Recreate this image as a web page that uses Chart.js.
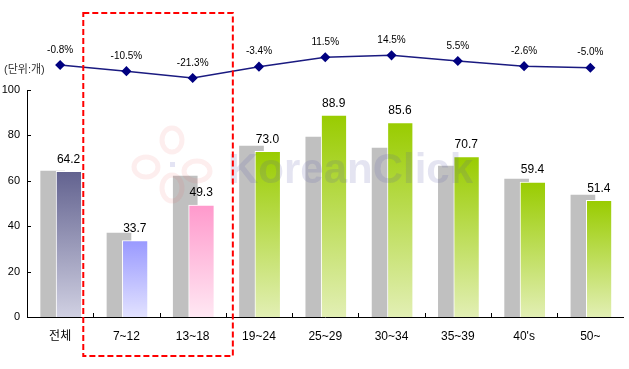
<!DOCTYPE html>
<html>
<head>
<meta charset="utf-8">
<script src="https://cdn.jsdelivr.net/npm/chart.js@4.4.1/dist/chart.umd.min.js"></script>
<style>
  html, body { margin: 0; padding: 0; background: #fff; }
  #wrap { width: 629px; height: 369px; position: relative; }
</style>
</head>
<body>
<div id="wrap"><canvas id="chart" width="629" height="369"></canvas></div>
<script>
// 데이터
const categories = ['전체', '7~12', '13~18', '19~24', '25~29', '30~34', '35~39', '40\'s', '50~'];
const prevValues = [64.3, 37.0, 62.1, 75.3, 79.3, 74.4, 66.5, 60.8, 53.7];
const curValues = [64.2, 33.7, 49.3, 73.0, 88.9, 85.6, 70.7, 59.4, 51.4];
const changeRates = [-0.8, -10.5, -21.3, -3.4, 11.5, 14.5, 5.5, -2.6, -5.0];
const yTicks = [0, 20, 40, 60, 80, 100];

const FONT = '"Liberation Sans", "Noto Sans CJK KR", Arial, sans-serif';
const Y_MAX = 100;

// 막대 색 (위, 아래)
function barColors(i) {
  if (i === 0) return ['#62628f', '#d0d0e2'];
  if (i === 1) return ['#9999ff', '#e2e2ff'];
  if (i === 2) return ['#ff99cc', '#ffe8f3'];
  return ['#99cc00', '#e2efb4'];
}

function curGradient(ctx) {
  const chart = ctx.chart;
  const area = chart.chartArea;
  const i = ctx.dataIndex;
  const c = barColors(i);
  if (!area || ctx.type !== 'data') return c[0];
  const y = chart.scales.y;
  const top = y.getPixelForValue(curValues[i]);
  const bottom = y.getPixelForValue(0);
  const g = chart.ctx.createLinearGradient(0, top, 0, bottom);
  g.addColorStop(0, c[0]);
  g.addColorStop(1, c[1]);
  return g;
}

const SHIFT_GRAY = -7.5 / 66.67;
const SHIFT_CUR = 8.5 / 66.67;

// 워터마크
function drawWatermark(ctx) {
  ctx.save();
  ctx.strokeStyle = 'rgba(240,90,90,0.1)';
  ctx.lineWidth = 5;
  [[172, 140, 10, 12], [146, 167, 12, 10], [197, 171, 13, 10], [172, 188, 10, 13]].forEach(l => {
    ctx.beginPath();
    ctx.ellipse(l[0], l[1], l[2], l[3], 0, 0, Math.PI * 2);
    ctx.stroke();
  });
  ctx.fillStyle = 'rgba(120,120,200,0.2)';
  ctx.fillRect(170, 162, 5, 5);

  ctx.font = 'bold 42px ' + FONT;
  ctx.fillStyle = 'rgba(90,90,170,0.16)';
  ctx.textBaseline = 'alphabetic';
  ctx.textAlign = 'left';
  ctx.fillText('KoreanClick', 228, 183);
  ctx.restore();
}

//축선, 눈금, 라벨, 점선 박스
const decoPlugin = {
  id: 'deco',
  afterDatasetsDraw(chart) {
    const ctx = chart.ctx;
    const x = chart.scales.x;
    const y = chart.scales.y;
    const area = chart.chartArea;
    const step = area.width / categories.length;

    drawWatermark(ctx);

    ctx.save();
    ctx.strokeStyle = '#000';
    ctx.lineWidth = 1;
    // y축선
    const ax = Math.round(area.left) + 0.5;
    ctx.beginPath();
    ctx.moveTo(ax, y.getPixelForValue(Y_MAX));
    ctx.lineTo(ax, y.getPixelForValue(0));
    ctx.stroke();
    // y축 눈금 (안쪽)
    yTicks.forEach(v => {
      const py = Math.round(y.getPixelForValue(v)) + 0.5;
      ctx.beginPath();
      ctx.moveTo(area.left, py);
      ctx.lineTo(area.left + 4, py);
      ctx.stroke();
    });
    // x축 눈금 (안쪽)
    for (let i = 1; i < categories.length; i++) {
      const px = Math.round(x.getPixelForValue(i) - step / 2) + 0.5;
      ctx.beginPath();
      ctx.moveTo(px, area.bottom);
      ctx.lineTo(px, area.bottom - 4);
      ctx.stroke();
    }

    // 막대 값
    ctx.fillStyle = '#000';
    ctx.font = '12px ' + FONT;
    ctx.textAlign = 'center';
    ctx.textBaseline = 'middle';
    const curMeta = chart.getDatasetMeta(1);
    curMeta.data.forEach((bar, i) => {
      ctx.fillText(curValues[i].toFixed(1), bar.x, bar.y - 12);
    });

    // 증감률
    ctx.font = '10px ' + FONT;
    const lineMeta = chart.getDatasetMeta(2);
    lineMeta.data.forEach((pt, i) => {
      ctx.fillText(changeRates[i].toFixed(1) + '%', pt.x, pt.y - 15);
    });

    // 단위
    ctx.font = '11px ' + FONT;
    ctx.textAlign = 'left';
    ctx.fillStyle = '#333';
    ctx.fillText('(단위:개)', 4, 70);

    // 빨간 점선 박스
    const left = x.getPixelForValue(1) - step / 2 - 10;
    const right = x.getPixelForValue(2) + step / 2 + 7;
    ctx.strokeStyle = '#ff0000';
    ctx.lineWidth = 2;
    ctx.setLineDash([6, 3]);
    ctx.strokeRect(left, 13, right - left, 343);
    ctx.restore();
  }
};

const chart = new Chart(document.getElementById('chart').getContext('2d'), {
  type: 'bar',
  data: {
    labels: categories,
    datasets: [
      {
        label: 'prev',
        data: prevValues.map((v, i) => ({ x: i, y: v })),
        xAxisID: 'xg',
        yAxisID: 'y',
        backgroundColor: '#c0c0c0',
        borderWidth: 0,
        barThickness: 24,
        grouped: false,
        order: 3
      },
      {
        label: 'cur',
        data: curValues.map((v, i) => ({ x: i, y: v })),
        xAxisID: 'xc',
        yAxisID: 'y',
        backgroundColor: curGradient,
        borderColor: '#ffffff',
        borderWidth: { left: 1, top: 1, right: 0, bottom: 0 },
        barThickness: 25,
        grouped: false,
        order: 2
      },
      {
        type: 'line',
        label: 'rate',
        data: changeRates,
        xAxisID: 'x',
        yAxisID: 'y2',
        borderColor: '#1a1a80',
        borderWidth: 1.5,
        pointStyle: 'rectRot',
        pointRadius: 4,
        pointBackgroundColor: '#000080',
        pointBorderColor: '#000080',
        clip: false,
        order: 1
      }
    ]
  },
  options: {
    responsive: false,
    animation: false,
    maintainAspectRatio: false,
    layout: { padding: { top: 10, right: 2, left: 0, bottom: 0 } },
    plugins: {
      legend: { display: false },
      tooltip: { enabled: false }
    },
    scales: {
      x: {
        type: 'category',
        offset: true,
        grid: { display: false },
        border: { color: '#000', width: 1 },
        ticks: { color: '#000', font: { size: 12, family: FONT }, padding: 4, maxRotation: 0 },
        afterFit(scale) { scale.height = 52; }
      },
      xg: {
        type: 'linear',
        display: false,
        offset: false,
        min: -0.5 - SHIFT_GRAY,
        max: categories.length - 0.5 - SHIFT_GRAY
      },
      xc: {
        type: 'linear',
        display: false,
        offset: false,
        min: -0.5 - SHIFT_CUR,
        max: categories.length - 0.5 - SHIFT_CUR
      },
      y: {
        min: 0,
        max: 135.24,
        grid: { display: false, drawTicks: false },
        border: { display: false },
        ticks: { color: '#000', font: { size: 11, family: FONT }, padding: 7 },
        afterBuildTicks(scale) { scale.ticks = yTicks.map(v => ({ value: v })); },
        afterFit(scale) {
          scale.width = 27;
          scale.paddingTop = 0;
          scale.paddingBottom = 0;
        }
      },
      y2: {
        display: false,
        min: -398.2,
        max: 86.0
      }
    }
  },
  plugins: [decoPlugin]
});
</script>
</body>
</html>
